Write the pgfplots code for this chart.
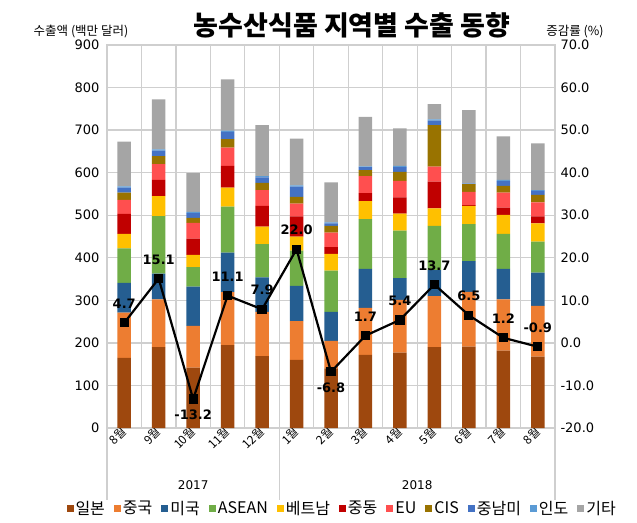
\documentclass[border=0pt]{standalone}
\usepackage{pgfplots}
\pgfplotsset{compat=1.18}
\usepackage{pgfplotstable}
\usepackage{fontspec}
\setmainfont{DejaVu Sans}
\newfontfamily\kr{Noto Sans CJK KR}

\definecolor{cjp}{HTML}{9E480E}
\definecolor{ccn}{HTML}{ED7D31}
\definecolor{cus}{HTML}{255E91}
\definecolor{casean}{HTML}{70AD47}
\definecolor{cvn}{HTML}{FFC000}
\definecolor{cme}{HTML}{C00000}
\definecolor{ceu}{HTML}{FF4F4F}
\definecolor{ccis}{HTML}{997300}
\definecolor{clatam}{HTML}{4472C4}
\definecolor{cind}{HTML}{5B9BD5}
\definecolor{cetc}{HTML}{A5A5A5}
\definecolor{gridgray}{HTML}{CFCFCF}

\pgfplotstableread{
x  jp  cn  us  asean vn me eu cis latam ind etc pct
0  165 106 70  81  34 47 33 17 12 3 105 4.7
1  190 112 61  135 47 38 37 19 13 3 117 15.1
2  142 98  92  46  29 38 37 12 11 3 91  -13.2
3  195 124 93  108 45 51 43 20 17 3 120 11.1
4  169 104 81  78  41 49 37 17 13 3 120 7.9
5  160 91  83  83  33 47 30 16 24 3 110 22.0
6  140 65  68  97  39 16 34 16 6  2 94  -6.8
7  172 110 92  117 42 19 40 14 7  2 116 1.7
8  177 124 51  112 40 38 39 21 11 3 88  5.4
9  190 120 61  104 41 63 35 98 10 3 36  13.7
10 191 129 72  87  43 2  31 18 1  1 172 6.5
11 182 120 72  82  45 17 35 16 11 3 102 1.2
12 168 119 78  73  43 16 33 18 9  2 110 -0.9
}\data

\pgfplotsset{
  sq/.style={legend image code/.code={\fill[##1] (0pt,-3.5pt) rectangle (7pt,3.5pt);}},
  lbl/.style={draw=none, mark=none, point meta=explicit, unbounded coords=discard,
    nodes near coords={\pgfmathprintnumber[fixed,fixed zerofill,precision=1,assume math mode=true]{\pgfplotspointmeta}},
    every node near coord/.append style={inner sep=2pt, font=\bfseries\fontsize{13}{14}\selectfont, black}},
}

\begin{document}
\begin{tikzpicture}
\useasboundingbox (-107pt,-94pt) rectangle (530pt,428pt);
\begin{axis}[
  scale only axis, width=448pt, height=383pt,
  ybar stacked, bar width=13.5pt,
  xmin=-0.5, xmax=12.5, ymin=0, ymax=900,
  ytick={0,100,...,900},
  xtick={0,...,12},
  xticklabels={8월,9월,10월,11월,12월,1월,2월,3월,4월,5월,6월,7월,8월},
  xticklabel style={font=\kr\fontsize{12}{13}\selectfont, rotate=45, anchor=east, yshift=-1pt, inner sep=1pt},
  yticklabel style={font=\fontsize{13}{14}\selectfont, xshift=-4pt},
  /pgf/number format/assume math mode=true,
  minor xtick={-0.5,0.5,...,12.5},
  xminorgrids=true, ymajorgrids=true, xmajorgrids=false,
  major grid style={gridgray, line width=1.3pt},
  minor grid style={gridgray, line width=1.3pt},
  axis line style={draw=gridgray, line width=1.3pt},
  tick style={draw=none},
  minor tick style={draw=none},
  every axis plot post/.append style={sq, draw=none},
  legend columns=-1,
  legend style={draw=none, fill=none, at={(0.525,-0.21)}, anchor=center,
    font=\kr\fontsize{16}{17}\selectfont,
    /tikz/every even column/.append style={column sep=7pt}},
  clip=false,
]
\addplot[fill=cjp] table[x=x,y=jp]{\data};
\addplot[fill=ccn] table[x=x,y=cn]{\data};
\addplot[fill=cus] table[x=x,y=us]{\data};
\addplot[fill=casean] table[x=x,y=asean]{\data};
\addplot[fill=cvn] table[x=x,y=vn]{\data};
\addplot[fill=cme] table[x=x,y=me]{\data};
\addplot[fill=ceu] table[x=x,y=eu]{\data};
\addplot[fill=ccis] table[x=x,y=cis]{\data};
\addplot[fill=clatam] table[x=x,y=latam]{\data};
\addplot[fill=cind] table[x=x,y=ind]{\data};
\addplot[fill=cetc] table[x=x,y=etc]{\data};
\legend{일본,중국,미국,ASEAN,베트남,중동,EU,CIS,중남미,인도,기타}
\draw[gridgray, line width=1.3pt] (axis cs:-0.5,0) -- ++(0pt,-72pt);
\draw[gridgray, line width=1.3pt] (axis cs:4.5,0) -- ++(0pt,-72pt);
\draw[gridgray, line width=1.3pt] (axis cs:12.5,0) -- ++(0pt,-72pt);
\node[font=\fontsize{12}{13}\selectfont] at ([yshift=-57pt]axis cs:2,0) {2017};
\node[font=\fontsize{12}{13}\selectfont] at ([yshift=-57pt]axis cs:8.5,0) {2018};
\end{axis}
\begin{axis}[
  scale only axis, width=448pt, height=383pt,
  xmin=-0.5, xmax=12.5, ymin=-20, ymax=70,
  ytick={-20,-10,...,70},
  axis y line*=right, axis x line=none,
  axis line style={draw=gridgray, line width=1.3pt},
  tick style={draw=none},
  yticklabel={\pgfmathprintnumber[fixed,fixed zerofill,precision=1,assume math mode=true]{\tick}},
  yticklabel style={font=\fontsize{13}{14}\selectfont, xshift=2pt},
  clip=false,
]
\addplot[black, line width=2.2pt, mark=square*, mark size=3.5pt, mark options={solid}]
  table[x=x,y=pct]{\data};
\addplot[lbl, x filter/.expression={(x==2||x==6) ? nan : x},
  every node near coord/.append style={anchor=south, yshift=12pt}]
  table[x=x,y=pct,meta=pct]{\data};
\addplot[lbl, x filter/.expression={(x==2||x==6) ? x : nan},
  every node near coord/.append style={anchor=north, yshift=-9pt}]
  table[x=x,y=pct,meta=pct]{\data};
\end{axis}
\node[font=\kr\bfseries\fontsize{27}{29}\selectfont] at (245pt,403pt) {농수산식품 지역별 수출 동향};
\node[font=\kr\fontsize{12.5}{14}\selectfont] at (-26pt,396pt) {수출액 (백만 달러)};
\node[font=\kr\fontsize{12.5}{14}\selectfont] at (468pt,396pt) {증감률 (\%)};
\end{tikzpicture}
\end{document}
